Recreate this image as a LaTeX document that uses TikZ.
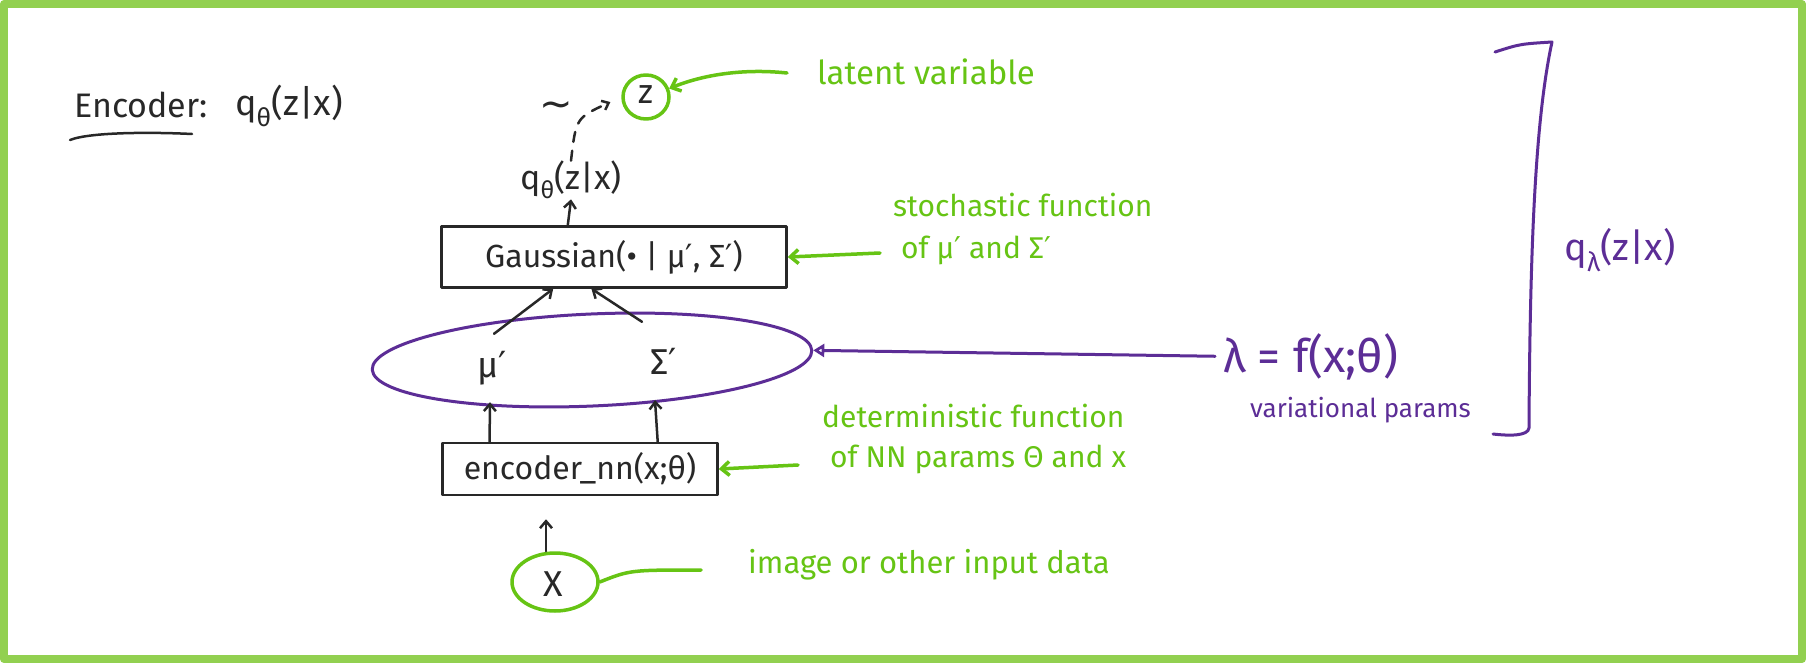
\documentclass[tikz,border=0pt]{standalone}
\usepackage{fontspec}
\setmainfont{Fira Sans}
\newfontfamily\symfont{DejaVu Sans}
\newcommand{\prm}{{\symfont ′}}
\newcommand{\sampled}{{\symfont ∼}}
\usetikzlibrary{arrows.meta,shapes.geometric,calc}
\definecolor{framegreen}{RGB}{146,208,80}
\definecolor{notegreen}{RGB}{102,196,20}
\definecolor{ink}{RGB}{40,40,40}
\definecolor{plum}{RGB}{92,45,150}
\begin{document}
\begin{tikzpicture}[x=1pt,y=-1pt,line cap=round,line join=round,
  txt/.style={font=\fontsize{30}{36}\selectfont,text=ink,inner sep=0pt},
  notetxt/.style={font=\fontsize{30}{40}\selectfont,text=notegreen,inner sep=0pt,align=left},
  plumtxt/.style={text=plum,inner sep=0pt},
  funcbox/.style={draw=ink,line width=2.5pt,rectangle,inner sep=0pt},
  arr/.style={draw=ink,line width=2.5pt,-{Straight Barb[length=7pt,width=12pt]}},
  garr/.style={draw=notegreen,line width=3.5pt,-{Straight Barb[length=8pt,width=14pt]}},
  gline/.style={draw=notegreen,line width=3.5pt},
  parr/.style={draw=plum,line width=3pt,-{Triangle[open,length=11pt,width=13pt]}},
  gring/.style={draw=notegreen,line width=3.5pt,ellipse,inner sep=0pt}]
\useasboundingbox (0,0) rectangle (1806,663);
\fill[white] (0,0) rectangle (1806,663);
\draw[framegreen,line width=8pt] (4,4) rectangle (1802,659);

% title
\node[txt,anchor=base west,font=\fontsize{34}{40}\selectfont] (enclab) at (74,118) {Encoder:};
\node[txt,anchor=base west,font=\fontsize{36}{40}\selectfont] (encq) at (235,116) {q\textsubscript{θ}(z|x)};
\draw[ink,line width=2.5pt] ([shift={(-4,22)}]enclab.base west)
  .. controls +(20,-8) and +(-40,-2) .. ([shift={(118,16)}]enclab.base west);

% sampling step
\node[txt,font=\fontsize{34}{40}\selectfont] (z) at (646,95) {z};
\node[gring,minimum width=46pt,minimum height=44pt] (zc) at (646,97) {};
\node[txt,font=\fontsize{40}{44}\selectfont] (tilde) at (556,110) {\sampled};
\node[txt,font=\fontsize{34}{40}\selectfont] (qmid) at (571,180) {q\textsubscript{θ}(z|x)};

% Gaussian layer
\node[funcbox,minimum width=345pt,minimum height=61pt] (gauss) at (614,257)
  {\fontsize{32}{36}\selectfont\color{ink}Gaussian(• | μ\prm, Σ\prm)};

% variational parameters
\node[draw=plum,line width=3pt,ellipse,minimum width=440pt,minimum height=92pt,
  rotate=2.5] (params) at (592,360) {};
\node[txt,font=\fontsize{36}{40}\selectfont,minimum height=68pt] (mu) at (492,368) {μ\prm};
\node[txt,font=\fontsize{36}{40}\selectfont,minimum height=78pt] (sigma) at (664,361) {Σ\prm};

% encoder network
\node[funcbox,minimum width=275pt,minimum height=52pt] (enc) at (580,469)
  {\fontsize{32}{36}\selectfont\color{ink}encoder\_nn(x;θ)};

% input
\node[txt,font=\fontsize{36}{40}\selectfont] (x) at (553,584) {X};
\node[gring,minimum width=86pt,minimum height=58pt] (xc) at (555,582) {};

% black flow
\draw[arr] ([xshift=-9pt]xc.north) -- ++(0,-32);
\draw[arr] ($(enc.north west)!0.174!(enc.north east)$) -- ([xshift=-2pt]mu.south);
\draw[arr] ($(enc.north west)!0.78!(enc.north east)$) -- ([xshift=-9pt]sigma.south);
\draw[arr] ([xshift=2pt]mu.north) -- ($(gauss.south west)!0.325!(gauss.south east)$);
\draw[arr] ([xshift=-22pt]sigma.north) -- ($(gauss.south west)!0.435!(gauss.south east)$);
\draw[arr] ($(gauss.north west)!0.367!(gauss.north east)$) -- (qmid.south);
\draw[ink,line width=2.5pt,dash pattern=on 10pt off 9pt,-{Straight Barb[length=6pt,width=10pt]},shorten >=12pt]
  (qmid.north) .. controls (576,118) .. (zc.west);

% green annotations
\node[notetxt,anchor=base west,font=\fontsize{33}{40}\selectfont] (lat) at (817,85) {latent variable};
\coordinate (latl) at (787,73);
\draw[garr] (latl) .. controls (740,68) and (700,76) .. (zc.20);

\node[notetxt,anchor=base west] (sto) at (893,258) {stochastic function\\[2pt]\hspace{8pt}of μ\prm\ and Σ\prm};
\coordinate (stol) at (880,253);
\draw[garr] (stol) -- (gauss.east);

\node[notetxt,anchor=base west] (det) at (822,467) {deterministic function\\\hspace{8pt}of NN params Θ and x};
\coordinate (detl) at (798,465);
\draw[garr] (detl) -- (enc.east);

\node[notetxt,anchor=base west,font=\fontsize{31}{40}\selectfont] (img) at (748,573) {image or other input data};
\coordinate (imgl) at (701,570);
\draw[gline] (xc.east) .. controls (630,570) .. (imgl);

% variational parameters label
\node[plumtxt,anchor=base west,font=\fontsize{46}{50}\selectfont] (lam) at (1223,372) {λ = f(x;θ)};
\node[plumtxt,anchor=base west,font=\fontsize{26}{30}\selectfont] (vp) at (1250,417) {variational params};
\draw[parr,shorten <=8pt] (lam.west) -- (params.east);

% bracket and approximate posterior
\draw[plum,line width=3pt] (1495,52) .. controls (1520,44) .. (1552,42)
  .. controls (1535,120) and (1530,250) .. (1529,428)
  .. controls (1528,436) and (1510,436) .. (1493,434);
\node[plumtxt,font=\fontsize{38}{40}\selectfont] (qlam) at (1620,250) {q\textsubscript{λ}(z|x)};
\end{tikzpicture}
\end{document}
